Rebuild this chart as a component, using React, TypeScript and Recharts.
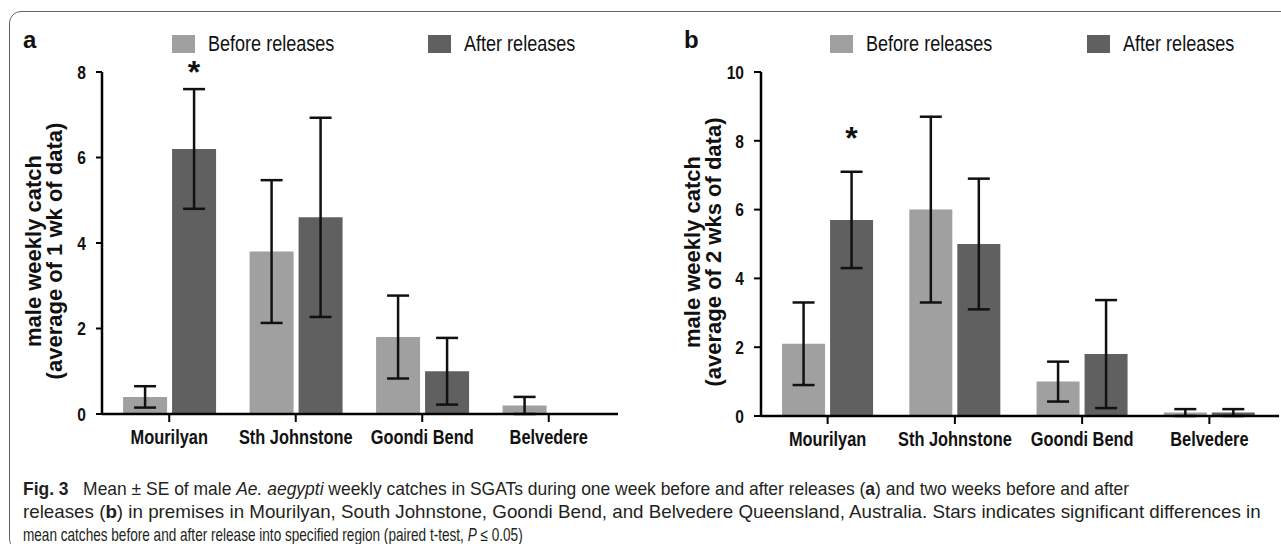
import React, { useLayoutEffect, useRef, useState } from 'react';
import { BarChart, Bar, XAxis, YAxis, ErrorBar, LabelList } from 'recharts';

// no narrow face is installed, so Liberation Sans gets squeezed horizontally
const SANS = "'Liberation Sans', Arial, sans-serif";
const SQUEEZE = 0.82;

const BEFORE_FILL = '#a0a0a0';
const AFTER_FILL = '#606060';

const sites = ['Mourilyan', 'Sth Johnstone', 'Goondi Bend', 'Belvedere'];

// panel a: one week before / after
const beforeA = [0.4, 3.8, 1.8, 0.2];
const beforeErrA = [0.25, 1.67, 0.97, 0.2];
const afterA = [6.2, 4.6, 1.0, 0];
const afterErrA = [1.4, 2.33, 0.78, 0];
const starA = [8.14, null, null, null];
const ticksA = [0, 2, 4, 6, 8];

// panel b: two weeks before / after
const beforeB = [2.1, 6.0, 1.0, 0.1];
const beforeErrB = [1.2, 2.7, 0.58, 0.1];
const afterB = [5.7, 5.0, 1.8, 0.1];
const afterErrB = [1.4, 1.9, 1.57, 0.1];
const starB = [8.27, null, null, null];
const ticksB = [0, 2, 4, 6, 8, 10];

type Row = {
  site: string;
  before: number;
  beforeErr: number;
  after: number;
  afterErr: number;
  star: number | null;
};

function buildRows(before: number[], beforeErr: number[], after: number[], afterErr: number[], star: (number | null)[]): Row[] {
  return sites.map((site, i) => ({
    site,
    before: before[i],
    beforeErr: beforeErr[i],
    after: after[i],
    afterErr: afterErr[i],
    star: star[i],
  }));
}

const rowsA = buildRows(beforeA, beforeErrA, afterA, afterErrA, starA);
const rowsB = buildRows(beforeB, beforeErrB, afterB, afterErrB, starB);

const XTick = (props: any) => {
  const { x, y, payload } = props;
  return (
    <g transform={`translate(${x},${y}) scale(${SQUEEZE},1)`}>
      <text x={0} y={0} dy="0.71em" textAnchor="middle" fontFamily={SANS} fontWeight="bold" fontSize={20} fill="#111">
        {payload.value}
      </text>
    </g>
  );
};

const YTick = (props: any) => {
  const { x, y, payload } = props;
  return (
    <g transform={`translate(${x},${y}) scale(${SQUEEZE},1)`}>
      <text x={0} y={0} dy="0.355em" textAnchor="end" fontFamily={SANS} fontWeight="bold" fontSize={19} fill="#111">
        {payload.value}
      </text>
    </g>
  );
};

// star sits above the bar, placed with the bar's own px-per-unit
const makeStar = (rows: Row[]) => (props: any) => {
  const { index, value } = props;
  if (value == null || index == null) return null;
  const vb = props.viewBox ?? props;
  const v = rows[index].after;
  if (!v) return null;
  const base = vb.y + vb.height;
  const cy = base - (value * vb.height) / v;
  return (
    <text x={vb.x + vb.width / 2} y={cy + 17} textAnchor="middle" fontFamily={SANS} fontWeight="bold" fontSize={32} fill="#111">
      *
    </text>
  );
};

const makeYLabel = (lines: string[]) => (props: any) => {
  const vb = props.viewBox;
  const cy = vb.y + vb.height / 2 + 8;
  const right = vb.x + vb.width;
  return (
    <g>
      {lines.map((t, i) => {
        const cx = right - 69 + i * 21;
        return (
          <text
            key={t}
            x={cx}
            y={cy}
            transform={`rotate(-90, ${cx}, ${cy})`}
            textAnchor="middle"
            dominantBaseline="central"
            fontFamily={SANS}
            fontWeight="bold"
            fontSize={22}
            fill="#111"
          >
            {t}
          </text>
        );
      })}
    </g>
  );
};

type PanelProps = {
  left: number;
  width: number;
  rows: Row[];
  ticks: number[];
  yLines: string[];
  marginLeft: number;
  marginRight: number;
  xAxisHeight: number;
  padding: { left: number; right: number };
  gap: string;
  yTickSize: number;
};

function Panel({ left, width, rows, ticks, yLines, marginLeft, marginRight, xAxisHeight, padding, gap, yTickSize }: PanelProps) {
  return (
    <div style={{ position: 'absolute', left, top: 0 }}>
      <BarChart
        width={width}
        height={460}
        data={rows}
        margin={{ top: 72, right: marginRight, bottom: 0, left: marginLeft }}
        barCategoryGap={gap}
        barGap={5}
      >
        <XAxis
          dataKey="site"
          height={xAxisHeight}
          padding={padding}
          axisLine={{ stroke: '#000', strokeWidth: 2.5 }}
          tickLine={{ stroke: '#000', strokeWidth: 2 }}
          tickSize={8}
          tickMargin={8}
          interval={0}
          tick={<XTick />}
        />
        <YAxis
          width={100}
          domain={[0, ticks[ticks.length - 1]]}
          ticks={ticks}
          allowDataOverflow
          axisLine={{ stroke: '#000', strokeWidth: 2.5 }}
          tickLine={{ stroke: '#000', strokeWidth: 2 }}
          tickSize={yTickSize}
          tickMargin={10}
          tick={<YTick />}
          label={{ content: makeYLabel(yLines) }}
        />
        <Bar dataKey="before" fill={BEFORE_FILL} isAnimationActive={false}>
          <ErrorBar dataKey="beforeErr" width={11} stroke="#111" strokeWidth={2.5} direction="y" />
        </Bar>
        <Bar dataKey="after" fill={AFTER_FILL} isAnimationActive={false}>
          <ErrorBar dataKey="afterErr" width={11} stroke="#111" strokeWidth={2.5} direction="y" />
          <LabelList dataKey="star" content={makeStar(rows)} />
        </Bar>
      </BarChart>
    </div>
  );
}

function LegendItem({ x, fill, text }: { x: number; fill: string; text: string }) {
  return (
    <div style={{ position: 'absolute', left: x, top: 35, height: 18 }}>
      <div style={{ position: 'absolute', left: 0, top: 0, width: 23, height: 18, background: fill }} />
      <span
        style={{
          position: 'absolute',
          left: 36,
          top: -3,
          display: 'inline-block',
          whiteSpace: 'nowrap',
          transform: `scaleX(${SQUEEZE})`,
          transformOrigin: 'left center',
          fontFamily: SANS,
          fontSize: 22,
          lineHeight: '24px',
          color: '#111',
        }}
      >
        {text}
      </span>
    </div>
  );
}

function PanelLetter({ x, text }: { x: number; text: string }) {
  return (
    <div style={{ position: 'absolute', left: x, top: 26, fontFamily: SANS, fontWeight: 'bold', fontSize: 24, color: '#111' }}>
      {text}
    </div>
  );
}

// caption line squeezed as a whole to the width it takes in the figure
function CaptionLine({ y, target, children }: { y: number; target: number; children: React.ReactNode }) {
  const ref = useRef<SVGTextElement>(null);
  const [sx, setSx] = useState(1);
  useLayoutEffect(() => {
    if (ref.current) {
      const w = ref.current.getComputedTextLength();
      if (w > 0) setSx(target / w);
    }
  }, [target]);
  return (
    <g transform={`translate(23,${y}) scale(${sx},1)`}>
      <text ref={ref} x={0} y={0} fontFamily={SANS} fontSize={18} fill="#231f20">
        {children}
      </text>
    </g>
  );
}

function Caption() {
  return (
    <svg width={1281} height={544} style={{ position: 'absolute', left: 0, top: 0 }}>
      <CaptionLine y={495} target={1107}>
        <tspan fontWeight="bold">Fig. 3</tspan>
        {'\u00a0\u00a0 Mean ± SE of male '}
        <tspan fontStyle="italic">Ae. aegypti</tspan>
        {' weekly catches in SGATs during one week before and after releases ('}
        <tspan fontWeight="bold">a</tspan>
        {') and two weeks before and after'}
      </CaptionLine>
      <CaptionLine y={518} target={1239}>
        {'releases ('}
        <tspan fontWeight="bold">b</tspan>
        {') in premises in Mourilyan, South Johnstone, Goondi Bend, and Belvedere Queensland, Australia. Stars indicates significant differences in'}
      </CaptionLine>
      <CaptionLine y={541} target={500}>
        {'mean catches before and after release into specified region (paired t-test, '}
        <tspan fontStyle="italic">P</tspan>
        {' ≤ 0.05)'}
      </CaptionLine>
    </svg>
  );
}

export default function App() {
  return (
    <div style={{ position: 'absolute', left: 0, top: 0, width: 1281, height: 544, overflow: 'hidden', background: '#fff' }}>
      <div
        style={{
          position: 'absolute',
          left: 9,
          top: 11,
          width: 1300,
          height: 540,
          border: '1px solid #666',
          borderRadius: 12,
          boxSizing: 'border-box',
        }}
      />
      <Caption />
      <Panel
        left={0}
        width={640}
        rows={rowsA}
        ticks={ticksA}
        yLines={['male weekly catch', '(average of 1 wk of data)']}
        marginLeft={2}
        marginRight={22}
        xAxisHeight={46}
        padding={{ left: 4, right: 6 }}
        gap="13.5%"
        yTickSize={6}
      />
      <Panel
        left={640}
        width={641}
        rows={rowsB}
        ticks={ticksB}
        yLines={['male weekly catch', '(average of 2 wks of data)']}
        marginLeft={21}
        marginRight={2}
        xAxisHeight={44}
        padding={{ left: 3, right: 6 }}
        gap="14.2%"
        yTickSize={7}
      />
      <PanelLetter x={23} text="a" />
      <PanelLetter x={684} text="b" />
      <LegendItem x={172} fill={BEFORE_FILL} text="Before releases" />
      <LegendItem x={428} fill={AFTER_FILL} text="After releases" />
      <LegendItem x={830} fill={BEFORE_FILL} text="Before releases" />
      <LegendItem x={1087} fill={AFTER_FILL} text="After releases" />
    </div>
  );
}
